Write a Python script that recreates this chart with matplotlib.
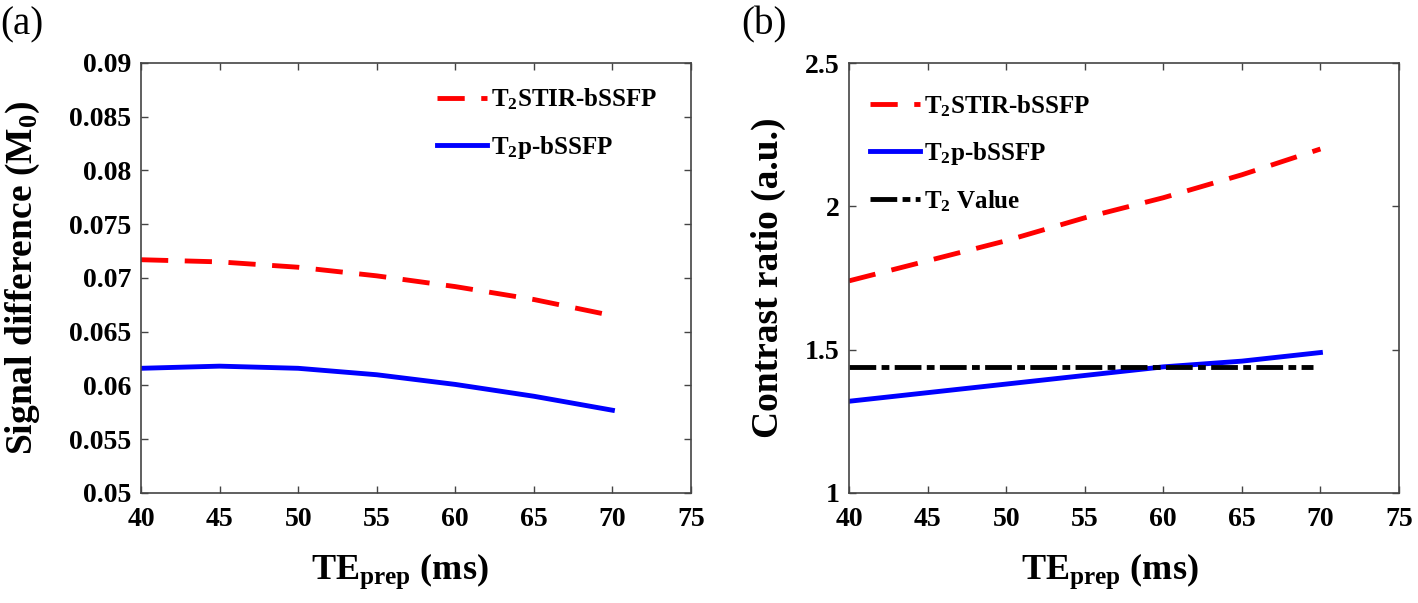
import matplotlib
matplotlib.use("Agg")
import matplotlib.pyplot as plt

plt.rcParams['font.family'] = ['Liberation Serif', 'DejaVu Serif']
plt.rcParams['mathtext.fontset'] = 'custom'
plt.rcParams['mathtext.rm'] = 'Liberation Serif:bold'
plt.rcParams['mathtext.it'] = 'Liberation Serif:bold'
plt.rcParams['mathtext.bf'] = 'Liberation Serif:bold'

# data
te_prep = [40, 45, 50, 55, 60, 65, 70]

# (a) signal difference
sd_stir = [0.0717, 0.0715, 0.0710, 0.0702, 0.0692, 0.0680, 0.0665]
sd_t2p = [0.0616, 0.0618, 0.0616, 0.0610, 0.0601, 0.0590, 0.0577]

# (b) contrast ratio
cr_stir = [1.74, 1.81, 1.88, 1.96, 2.03, 2.11, 2.20]
cr_t2p = [1.32, 1.35, 1.38, 1.41, 1.44, 1.46, 1.49]
t2_value = 1.44
t2_range = [40, 69.5]

x_ticks = [40, 45, 50, 55, 60, 65, 70, 75]
a_yticks = [0.05, 0.055, 0.06, 0.065, 0.07, 0.075, 0.08, 0.085, 0.09]
a_ylabels = ['0.05', '0.055', '0.06', '0.065', '0.07', '0.075', '0.08', '0.085', '0.09']
b_yticks = [1, 1.5, 2, 2.5]
b_ylabels = ['1', '1.5', '2', '2.5']

fig = plt.figure(figsize=(14.18, 6.03), dpi=100)
# axes boxes in pixels: left 141-691, right 849-1399, y 63-493
ax1 = fig.add_axes([141 / 1418, 110 / 603, 550 / 1418, 430 / 603])
ax2 = fig.add_axes([849 / 1418, 110 / 603, 550 / 1418, 430 / 603])

lw = 3.5
dash = (0, (5.6, 3.4))
dashdot = (0, (5.5, 1.1, 1.6, 1.1))
ax1.plot(te_prep, sd_stir, color='red', ls=dash, lw=lw, label='T$_2$STIR-bSSFP')
ax1.plot(te_prep, sd_t2p, color='blue', lw=lw, label='T$_2$p-bSSFP')

ax2.plot(te_prep, cr_stir, color='red', ls=dash, lw=lw, label='T$_2$STIR-bSSFP')
ax2.plot(te_prep, cr_t2p, color='blue', lw=lw, label='T$_2$p-bSSFP')
ax2.plot(t2_range, [t2_value, t2_value], color='black', ls=dashdot, lw=lw,
         label='T$_2$ Value')

def style(ax, yticks, ylabels, ylim, ylabel, xlab_x, ylab_x):
    ax.set_xlim(40, 75)
    ax.set_ylim(*ylim)
    ax.set_xticks(x_ticks)
    ax.set_xticklabels([str(t) for t in x_ticks], fontsize=20, fontweight='bold')
    ax.set_yticks(yticks)
    ax.set_yticklabels(ylabels, fontsize=20, fontweight='bold')
    ax.tick_params(direction='in', top=True, right=True, length=5, width=1, color='#444444')
    ax.tick_params(axis='x', pad=10)
    ax.tick_params(axis='y', pad=7)
    for s in ax.spines.values():
        s.set_linewidth(1.2)
        s.set_color('#444444')
    ax.set_xlabel('TE$_{\\mathregular{prep}}$ (ms)', fontsize=26, fontweight='bold')
    ax.xaxis.set_label_coords(xlab_x, -0.135)
    ax.set_ylabel(ylabel, fontsize=27, fontweight='bold')
    ax.yaxis.set_label_coords(ylab_x, 0.5)

style(ax1, a_yticks, a_ylabels, (0.05, 0.09), 'Signal difference (M$_0$)', 0.47, -0.18)
style(ax2, b_yticks, b_ylabels, (1, 2.5), 'Contrast ratio (a.u.)', 0.475, -0.115)

leg_kw = dict(frameon=False, prop={'size': 18, 'weight': 'bold'}, handlelength=2.0,
              handletextpad=0.15, labelspacing=0.85, borderpad=0, borderaxespad=0)
ax1.legend(loc='upper left', bbox_to_anchor=(0.538, 0.945), **leg_kw)
ax2.legend(loc='upper left', bbox_to_anchor=(0.038, 0.93), **leg_kw)

fig.text(0.0, 0.99, '(a)', fontsize=28, va='top', ha='left')
fig.text(741 / 1418, 0.99, '(b)', fontsize=28, va='top', ha='left')

fig.savefig('out.png', dpi=100)
